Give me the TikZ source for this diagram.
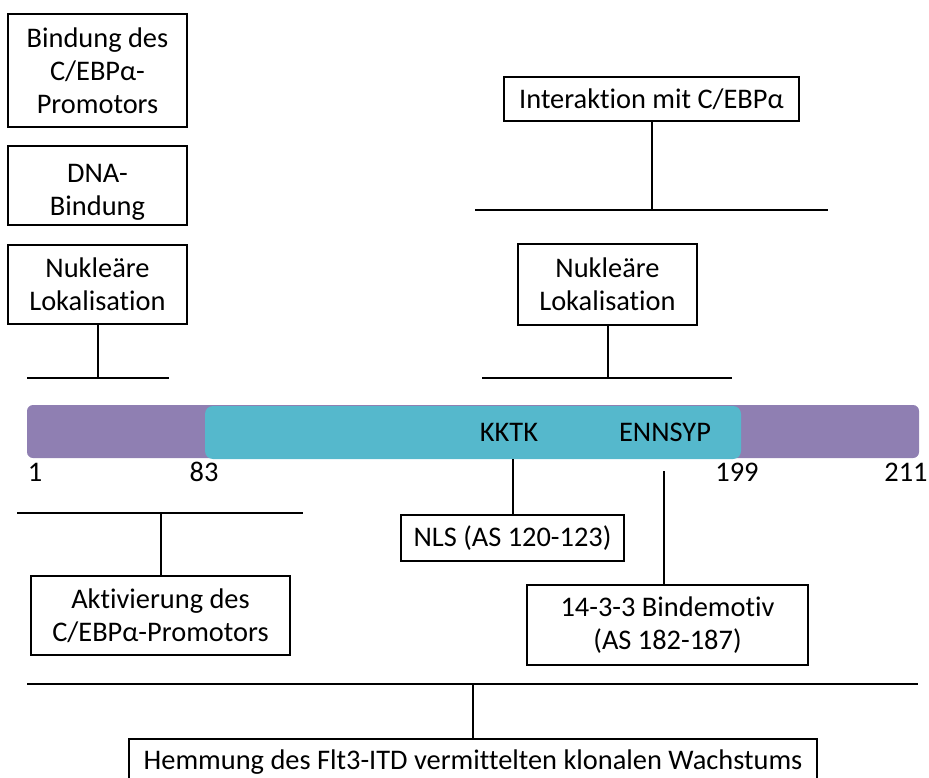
\documentclass[tikz,border=0pt]{standalone}
\usepackage{fontspec}
\setmainfont[Ligatures=NoCommon]{Carlito}
\definecolor{barpurple}{HTML}{8F7FB2}
\definecolor{barcyan}{HTML}{55B8CC}
\begin{document}
\begin{tikzpicture}[x=1pt,y=-1pt,
  lbl/.style={font=\fontsize{28.4}{33}\selectfont, align=center, inner sep=0pt},
  box/.style={lbl, draw=black, line width=2pt},
  conn/.style={draw=black, line width=2pt}]
\useasboundingbox (0,0) rectangle (929,778);
% boxes
\node[box, minimum width=179pt, minimum height=113pt] (bind) at (97.5,70.5) {Bindung des\\C/EBPα-\\Promotors};
\node[box, minimum width=179pt, minimum height=79pt] (dna) at (97.5,185.5) {\rule{0pt}{32pt}DNA-\\Bindung};
\node[box, minimum width=179pt, minimum height=79pt] (nukl) at (97.5,284.5) {Nukleäre\\Lokalisation};
\node[box, minimum width=295pt, minimum height=44pt] (inter) at (651.5,99.5) {Interaktion mit C/EBPα};
\node[box, minimum width=179pt, minimum height=81pt] (nukr) at (607.5,284.5) {Nukleäre\\Lokalisation};
\node[box, minimum width=223pt, minimum height=46pt] (nls) at (512.5,538) {NLS (AS 120-123)};
\node[box, minimum width=281pt, minimum height=80pt] (bm) at (667.5,625) {14-3-3 Bindemotiv\\(AS 182-187)};
\node[box, minimum width=259pt, minimum height=79pt] (akt) at (160.5,615.5) {Aktivierung des\\C/EBPα-Promotors};
\node[box, anchor=north, minimum width=688pt, inner ysep=3pt, text height=27pt, text depth=40pt] (hem) at (473,738) {Hemmung des Flt3-ITD vermittelten klonalen Wachstums};
% protein bar
\node[fill=barpurple, rounded corners=6pt, minimum width=892pt, minimum height=53pt, inner sep=0pt] (bar) at (473,431.5) {};
\node[fill=barcyan, rounded corners=8pt, minimum width=536pt, minimum height=53pt, inner sep=0pt] (dom) at (473,432.5) {};
\node[lbl] (kktk) at (509,432) {KKTK};
\node[lbl] (ennsyp) at (665,432) {ENNSYP};
\node[lbl] (n1) at (35,472) {1};
\node[lbl] (n83) at (204,472) {83};
\node[lbl] (n199) at (737,472) {199};
\node[lbl] (n211) at (906,472) {211};
% horizontal lines
\coordinate (h1a) at (27,378); \coordinate (h1b) at (169,378);
\coordinate (h2a) at (475,210); \coordinate (h2b) at (828,210);
\coordinate (h3a) at (482,378); \coordinate (h3b) at (732,378);
\coordinate (h4a) at (17,513); \coordinate (h4b) at (303,513);
\coordinate (h5a) at (27,684); \coordinate (h5b) at (918,684);
\coordinate (k1) at (513,459);
\coordinate (e1) at (664,471);
\draw[conn] (h1a) -- (h1b);
\draw[conn] (h2a) -- (h2b);
\draw[conn] (h3a) -- (h3b);
\draw[conn] (h4a) -- (h4b);
\draw[conn] (h5a) -- (h5b);
% verticals
\draw[conn] (nukl.south) -- (nukl.south |- h1a);
\draw[conn] (inter.south) -- (inter.south |- h2a);
\draw[conn] (nukr.south) -- (nukr.south |- h3a);
\draw[conn] (k1) -- (k1 |- nls.north);
\draw[conn] (e1) -- (e1 |- bm.north);
\draw[conn] (akt.north) -- (akt.north |- h4a);
\draw[conn] (hem.north) -- (hem.north |- h5a);
\end{tikzpicture}
\end{document}
